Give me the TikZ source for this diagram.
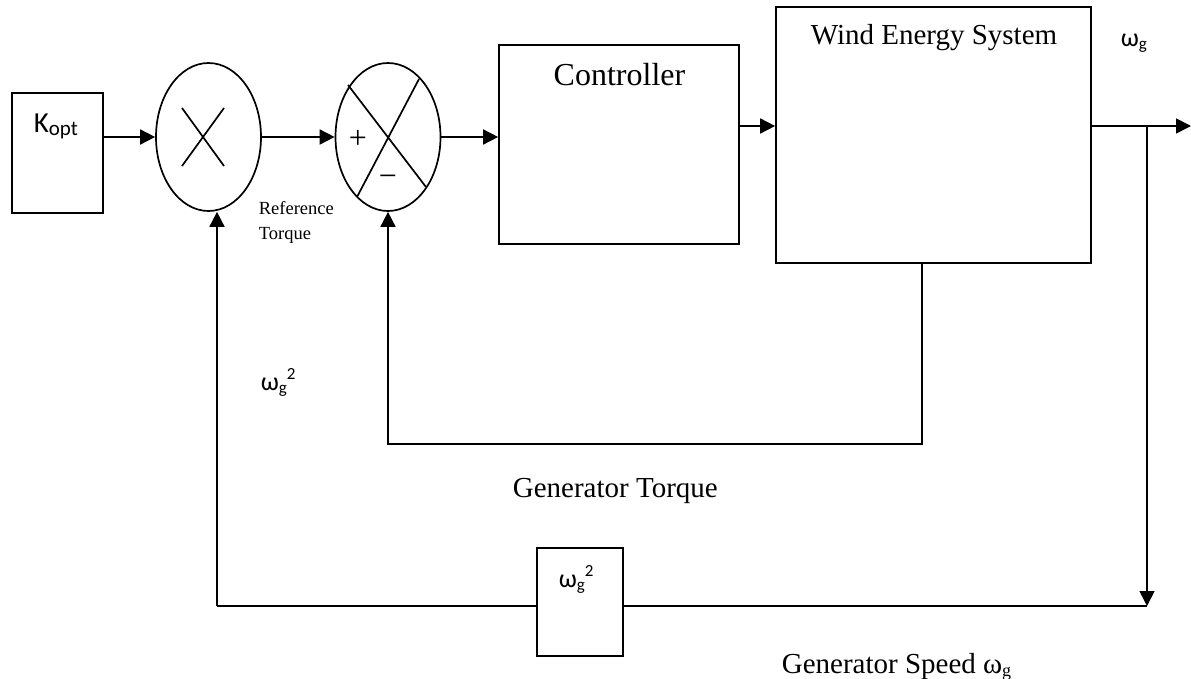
\documentclass[tikz,border=0pt]{standalone}
\usepackage{fontspec}
\setmainfont{Liberation Serif}
\newfontfamily\cf{Carlito}
\usetikzlibrary{arrows.meta,shapes.geometric,calc}
\newcommand\fsz[1]{\fontsize{#1}{#1}\selectfont}
\newcommand\wgsub{{\cf\fsz{26}ω\raisebox{-3pt}{\fsz{17}g}}}
\newcommand\wgsq{{\cf\fsz{26}ω\raisebox{-3pt}{\fsz{17}g}\raisebox{11pt}{\fsz{17}2}}}
\begin{document}
\begin{tikzpicture}[x=1pt,y=-1pt,line width=1.7pt,
  arr/.style={-{Triangle[length=15pt,width=15pt]}},
  blk/.style={draw,rectangle,inner sep=0pt},
  sumnode/.style={draw,ellipse,minimum width=105pt,minimum height=148pt,inner sep=0pt},
  lbl/.style={inner sep=0pt,anchor=base west}]
\useasboundingbox (0,0) rectangle (1191,679);

% blocks
\node[blk,minimum width=91pt,minimum height=120pt] (k) at (57.5,153) {};
\node[sumnode] (c1) at (208.5,137) {};
\node[sumnode] (c2) at (388,137) {};
\node[blk,minimum width=240pt,minimum height=199pt] (ctrl) at (619,144.5) {};
\node[blk,minimum width=315pt,minimum height=256pt] (wind) at (933.5,135) {};
\node[blk,minimum width=86pt,minimum height=108pt] (wb) at (580,602) {};

% marks inside the summing junctions
\draw (182,108) -- (224,166);
\draw (224,108) -- (182,166);
\draw (348,85) -- (426,187);
\draw (419,79) -- (357,197);
\node[inner sep=0pt] (plus) at (358,139) {\fsz{32}+};
\node[inner sep=0pt] (minus) at (388,181) {\fsz{32}−};

% texts
\node[lbl] (kt) at (33,133) {\cf\fsz{29}K\raisebox{-3pt}{\fsz{21}opt}};
\node[inner sep=0pt,anchor=base] (ctt) at (619.5,86) {\fsz{32}Controller};
\node[inner sep=0pt,anchor=base] (wt) at (934,45) {\fsz{29}Wind Energy System};
\node[lbl] (wout) at (1120,47) {\wgsub};
\node[lbl,align=left,font=\fsz{18.5}] (ref) at (258,240) {Reference\\[7pt]Torque};
\node[lbl] (wl) at (260,390) {\wgsq};
\node[lbl] (wbt) at (558,587) {\wgsq};
\node[lbl] (gt) at (512,497) {\fsz{29}Generator Torque};
\node[lbl] (gs) at (781,673) {\fsz{29}Generator Speed ω\raisebox{-3pt}{\fsz{18}g}};

% coordinates
\coordinate (ya) at (0,137);
\coordinate (yb) at (0,126);
\coordinate (out) at (1191,126);
\coordinate (br) at (1147,126);
\coordinate (brd) at (1147,606);
\coordinate (bl) at (217,606);
\coordinate (t1) at (922,444);

% connectors
\draw[arr] (k.east |- ya) -- (c1.west);
\draw[arr] (c1.east) -- (c2.west);
\draw[arr] (c2.east) -- (ctrl.west |- ya);
\draw[arr] (ctrl.east |- yb) -- (wind.west |- yb);
\draw[arr] (wind.east |- yb) -- (out);
\draw[arr] (br) -- (brd);
\draw (brd) -- (wb.east |- brd);
\draw (wb.west |- brd) -- (bl);
\draw[arr] (bl) -- (c1.south -| bl);
\draw[arr] (wind.south -| t1) -- (t1) -| (c2.south);
\end{tikzpicture}
\end{document}
